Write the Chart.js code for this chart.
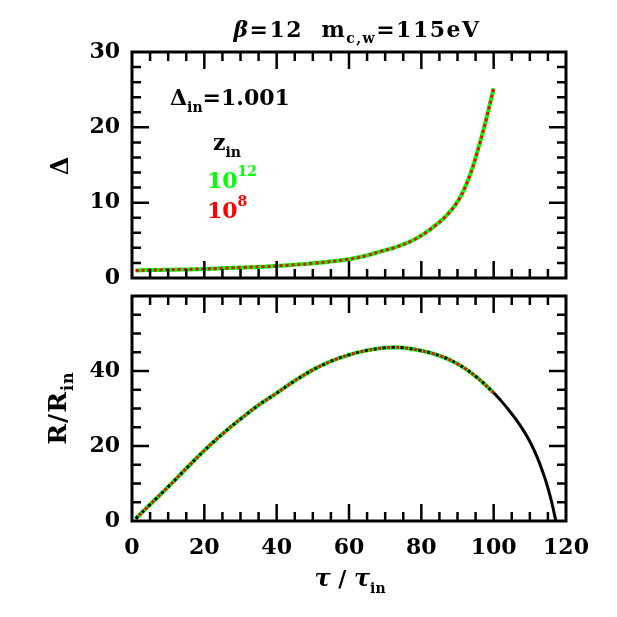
<!DOCTYPE html>
<html>
<head>
<meta charset="utf-8">
<script src="https://cdn.jsdelivr.net/npm/chart.js@4.4.0/dist/chart.umd.min.js"></script>
<style>
  html, body { margin: 0; padding: 0; background: #fff; }
  #wrap { position: relative; width: 617px; height: 617px; }
  canvas { position: absolute; left: 0; }
</style>
</head>
<body>
<div id="wrap">
  <canvas id="deltaChart" width="617" height="290" style="top:0"></canvas>
  <canvas id="radiusChart" width="617" height="327" style="top:290px"></canvas>
</div>
<script>
// values
const tauDelta = [1, 5, 10, 20, 30, 40, 50, 60, 65, 68.5, 73, 77.7, 82.3, 87, 90.6, 93.4, 96, 98, 100];
const deltaVals = [1.0, 1.05, 1.1, 1.2, 1.38, 1.6, 1.95, 2.5, 3.0, 3.5, 4.1, 5.0, 6.4, 8.3, 10.6, 13.6, 17.6, 21.2, 25.2];

const tauR = [1, 5, 10, 15, 20, 25, 30, 35, 40, 45, 50, 55, 60, 65, 70, 72, 75, 80, 85, 90, 95, 100];
const rVals = [0.6, 4.4, 9.1, 14.0, 18.8, 23.2, 27.2, 30.9, 34.1, 37.4, 40.3, 42.6, 44.3, 45.5, 46.2, 46.3, 46.2, 45.4, 44.1, 41.9, 38.6, 34.2];

// black curve keeps going after tau = 100
const tauCollapse = [102, 104, 106, 108, 110, 112, 114, 115, 116, 117, 117.2];
const rCollapse = [32.1, 29.8, 27.3, 24.5, 21.2, 17.1, 11.9, 8.8, 5.2, 0.9, 0];

const xTicks = [0, 20, 40, 60, 80, 100, 120];
const deltaTicks = [0, 10, 20, 30];
const rTicks = [0, 20, 40];

const GREEN = '#00ff00';
const RED = '#ff0000';
const FONT = '"DejaVu Serif", serif';

const pts = (xs, ys) => xs.map((x, i) => ({ x: x, y: ys[i] }));

// text pieces with sub/superscripts
function drawRich(ctx, x, y, parts, align) {
  let total = 0;
  parts.forEach(p => {
    ctx.font = p.font;
    total += ctx.measureText(p.t).width;
  });
  let cx = align === 'center' ? x - total / 2 : x;
  ctx.textAlign = 'left';
  ctx.textBaseline = 'alphabetic';
  parts.forEach(p => {
    ctx.font = p.font;
    ctx.fillStyle = p.color || '#000';
    ctx.fillText(p.t, cx, y + (p.dy || 0));
    cx += ctx.measureText(p.t).width;
  });
}

const big = 'bold 22px ' + FONT;
const small = 'bold 14px ' + FONT;

const framePlugin = {
  id: 'frame',
  afterDraw(chart, args, opts) {
    const ctx = chart.ctx;
    const a = chart.chartArea;
    const xs = chart.scales.x;
    const ys = chart.scales.y;
    ctx.save();
    ctx.strokeStyle = '#000';
    ctx.lineWidth = 3;
    ctx.strokeRect(a.left, a.top, a.right - a.left, a.bottom - a.top);

    ctx.beginPath();
    for (let v = xs.min + 5; v < xs.max; v += 5) {
      const px = xs.getPixelForValue(v);
      const len = v % 20 === 0 ? 17 : 9;
      ctx.moveTo(px, a.bottom); ctx.lineTo(px, a.bottom - len);
      ctx.moveTo(px, a.top); ctx.lineTo(px, a.top + len);
    }
    for (let v = ys.min + opts.yMinor; v < ys.max - 0.01; v += opts.yMinor) {
      const py = ys.getPixelForValue(v);
      const len = Math.abs(v % opts.yMajor) < 0.01 ? 17 : 9;
      ctx.moveTo(a.left, py); ctx.lineTo(a.left + len, py);
      ctx.moveTo(a.right, py); ctx.lineTo(a.right - len, py);
    }
    ctx.lineWidth = 2.5;
    ctx.stroke();

    ctx.fillStyle = '#000';
    ctx.font = big;
    ctx.textAlign = 'right';
    ctx.textBaseline = 'middle';
    opts.yTicks.forEach(v => ctx.fillText(String(v), a.left - 12, ys.getPixelForValue(v)));
    if (opts.xLabels) {
      ctx.textAlign = 'center';
      xTicks.forEach(v => ctx.fillText(String(v), xs.getPixelForValue(v), a.bottom + 27));
    }
    if (opts.extra) opts.extra(ctx, a, xs, ys);
    ctx.restore();
  }
};

function baseOptions(yMax, padding) {
  return {
    responsive: false,
    animation: false,
    layout: { padding: padding },
    plugins: { legend: { display: false }, tooltip: { enabled: false } },
    elements: { point: { radius: 0 }, line: { tension: 0.4 } },
    scales: {
      x: { type: 'linear', min: 0, max: 120, display: false },
      y: { type: 'linear', min: 0, max: yMax, display: false }
    }
  };
}

// top panel: Delta
const deltaOpts = baseOptions(30, { left: 132, right: 51, top: 52, bottom: 12 });
deltaOpts.plugins.frame = {
  yMinor: 2, yMajor: 10, yTicks: deltaTicks, xLabels: false,
  extra(ctx, a) {
    ctx.letterSpacing = '1.5px';
    drawRich(ctx, 357, 37, [
      { t: 'β', font: 'italic ' + big },
      { t: '=12  m', font: big },
      { t: 'c,w', font: small, dy: 6 },
      { t: '=115eV', font: big }
    ], 'center');
    ctx.letterSpacing = '0px';
    ctx.save();
    ctx.translate(62, 166);
    ctx.rotate(-Math.PI / 2);
    ctx.font = 'bold 24px ' + FONT; ctx.textAlign = 'center'; ctx.textBaseline = 'middle';
    ctx.fillStyle = '#000';
    ctx.fillText('Δ', 0, 0);
    ctx.restore();
    drawRich(ctx, 170, 105, [
      { t: 'Δ', font: big },
      { t: 'in', font: small, dy: 7 },
      { t: '=1.001', font: big }
    ]);
    drawRich(ctx, 213, 150, [
      { t: 'z', font: big },
      { t: 'in', font: small, dy: 7 }
    ]);
    drawRich(ctx, 207, 188, [
      { t: '10', font: big, color: GREEN },
      { t: '12', font: small, dy: -12, color: GREEN }
    ]);
    drawRich(ctx, 207, 218, [
      { t: '10', font: big, color: RED },
      { t: '8', font: small, dy: -12, color: RED }
    ]);
  }
};

// datasets listed top-most first
new Chart(document.getElementById('deltaChart'), {
  type: 'line',
  data: {
    datasets: [
      {
        label: 'z_in = 1e8',
        data: pts(tauDelta, deltaVals),
        borderColor: RED,
        borderWidth: 3,
        borderDash: [3, 3]
      },
      {
        label: 'z_in = 1e12',
        data: pts(tauDelta, deltaVals),
        borderColor: GREEN,
        borderWidth: 4
      }
    ]
  },
  options: deltaOpts,
  plugins: [framePlugin]
});

// bottom panel: R / R_in
const rOpts = baseOptions(60, { left: 132, right: 51, top: 6, bottom: 96 });
rOpts.plugins.frame = {
  yMinor: 5, yMajor: 20, yTicks: rTicks, xLabels: true,
  extra(ctx, a) {
    ctx.save();
    ctx.translate(66, 118);
    ctx.rotate(-Math.PI / 2);
    ctx.letterSpacing = '1px';
    drawRich(ctx, 0, 0, [
      { t: 'R/R', font: 'bold 25px ' + FONT },
      { t: 'in', font: 'bold 16px ' + FONT, dy: 7 }
    ], 'center');
    ctx.restore();
    drawRich(ctx, 350, 296, [
      { t: 'τ', font: 'italic bold 24px ' + FONT },
      { t: ' / ', font: big },
      { t: 'τ', font: 'italic bold 24px ' + FONT },
      { t: 'in', font: small, dy: 7 }
    ], 'center');
  }
};

new Chart(document.getElementById('radiusChart'), {
  type: 'line',
  data: {
    datasets: [
      {
        label: 'R full',
        data: pts(tauR.concat(tauCollapse), rVals.concat(rCollapse)),
        borderColor: '#000',
        borderWidth: 3,
        segment: {
          borderDash: c => (c.p1.parsed.x <= 100 ? [3, 6] : undefined)
        }
      },
      {
        label: 'z_in = 1e8',
        data: pts(tauR, rVals),
        borderColor: RED,
        borderWidth: 3,
        borderDash: [3, 6],
        borderDashOffset: 4.5
      },
      {
        label: 'z_in = 1e12',
        data: pts(tauR, rVals),
        borderColor: GREEN,
        borderWidth: 4
      }
    ]
  },
  options: rOpts,
  plugins: [framePlugin]
});
</script>
</body>
</html>
